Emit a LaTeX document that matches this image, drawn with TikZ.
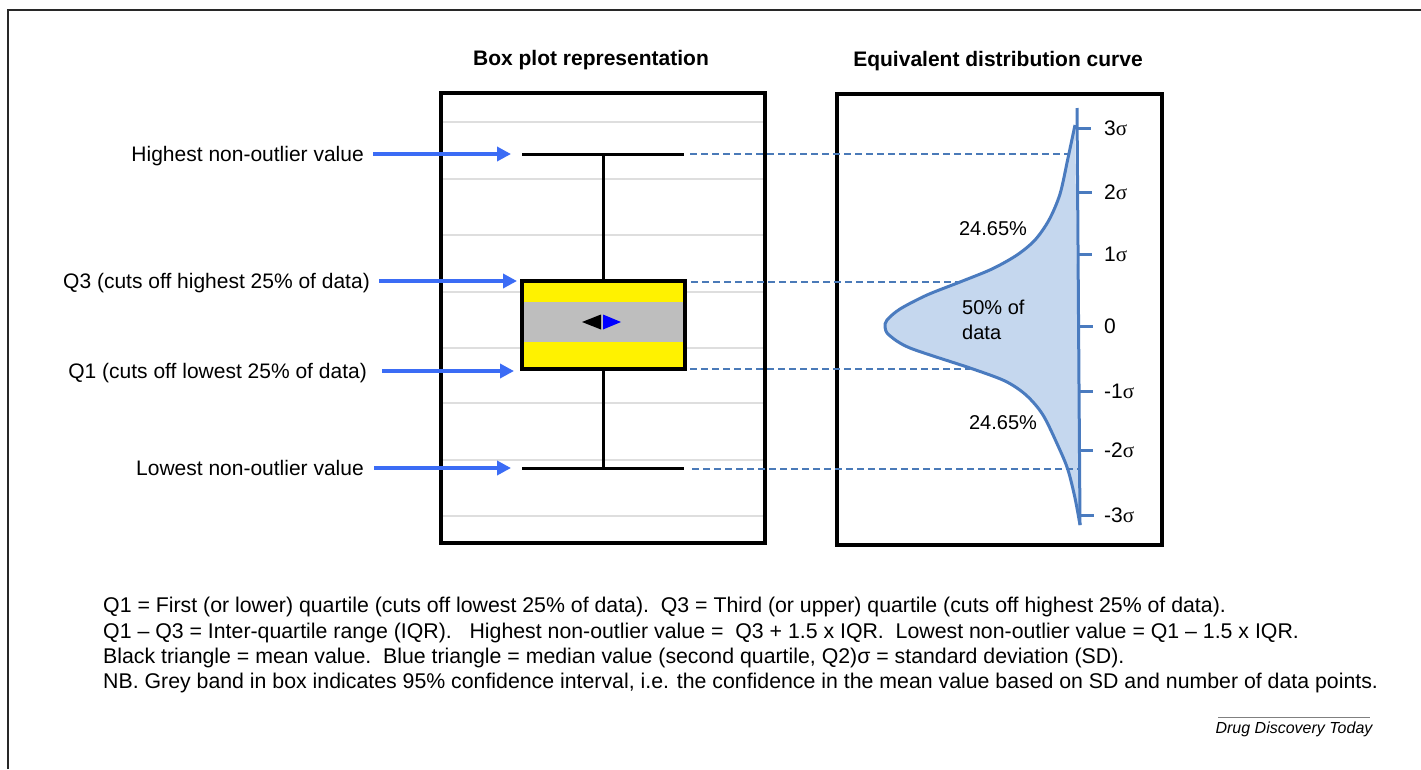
\documentclass[tikz,border=0pt]{standalone}
\usepackage{fontspec}
\setmainfont{Liberation Sans}
\newfontfamily\sigfont{Liberation Serif}
\usetikzlibrary{arrows.meta}
\newcommand\fs[2]{\fontsize{#1}{#2}\selectfont}
\definecolor{arrowblue}{RGB}{59,108,245}
\definecolor{dashblue}{RGB}{74,122,184}
\definecolor{curveblue}{RGB}{74,123,191}
\definecolor{curvefill}{RGB}{197,215,238}
\definecolor{bandgray}{RGB}{190,190,190}
\definecolor{gridgray}{RGB}{222,222,222}
\definecolor{framegray}{RGB}{40,40,40}
\newcommand\sg{{\sigfont σ}}
\begin{document}
\begin{tikzpicture}[x=1pt,y=-1pt,
  lbl/.style={font=\fs{21}{25}, inner sep=0pt, text height=15pt, text depth=0pt},
  ttl/.style={font=\fs{21}{25}\bfseries, inner sep=0pt},
  ptr/.style={draw=arrowblue, line width=3.5pt, -{Triangle[length=14pt,width=14pt]}},
  guide/.style={draw=dashblue, line width=2.5pt, dash pattern=on 7pt off 4pt},
  fn/.style={font=\fs{21.3}{25}, inner sep=0pt, anchor=west, text height=15pt, text depth=0pt},
  siglbl/.style={font=\fs{21}{25}, inner sep=0pt, anchor=west, text height=14.5pt, text depth=0pt},
  pct/.style={font=\fs{20}{24}, inner sep=0pt, text height=14pt, text depth=0pt},
  whisk/.style={line width=3pt, black},
  panel/.style={line width=3.5pt, black},
  crv/.style={curveblue, line width=3pt}]
\useasboundingbox (0,0) rectangle (1421,769);
\fill[white] (0,0) rectangle (1421,769);
\draw[framegray, line width=2pt] (8,769) -- (8,10) -- (1421,10);

% titles
\node[ttl] (t1) at (591,60) {Box plot representation};
\node[ttl] (t2) at (998,61) {Equivalent distribution curve};

% ---------- left panel ----------
\foreach \y in {122,179,235,292,348,403,460,516}
  \draw[gridgray, line width=2.5pt] (443,\y) -- (763,\y);
\draw[panel] (441,93) rectangle (765,543);
\draw[whisk] (603,154) -- (603,281);
\draw[whisk] (603,369) -- (603,468);
\draw[whisk] (522,154) -- (684,154);
\draw[whisk] (522,468) -- (684,468);
\fill[yellow] (522,281) rectangle (685,369);
\fill[bandgray] (522,302) rectangle (685,342);
\draw[panel] (522,281) rectangle (685,369);
\fill[black] (582,322) -- (601,314.5) -- (601,329.5) -- cycle;
\fill[blue] (621,322) -- (603,314.5) -- (603,329.5) -- cycle;

% labels and arrows
\node[lbl, anchor=east] (lH) at (364,154) {Highest non-outlier value};
\node[lbl, anchor=east] (lQ3) at (370,281) {Q3 (cuts off highest 25\% of data)};
\node[lbl, anchor=east] (lQ1) at (367,371) {Q1 (cuts off lowest 25\% of data)};
\node[lbl, anchor=east] (lL) at (364,468) {Lowest non-outlier value};
\coordinate (tH) at (511,154);
\coordinate (tQ3) at (517,281);
\coordinate (tQ1) at (514,371);
\coordinate (tL) at (511,468);
\draw[ptr] ([xshift=9pt]lH.east) -- (tH);
\draw[ptr] ([xshift=9pt]lQ3.east) -- (tQ3);
\draw[ptr] ([xshift=15pt]lQ1.east) -- (tQ1);
\draw[ptr] ([xshift=10pt]lL.east) -- (tL);

% ---------- right panel ----------
\draw[panel] (837,94) rectangle (1162,545);
\def\curvepts{(1075,125) (1068,158) (1060,194) (1049,220) (1035,240) (1017,255) (992,269) (960,282) (927,295) (900,309) (887,320) (885,327) (889,335) (910,348) (970,368) (1005,381) (1026,395) (1043,415) (1059,448) (1068,470) (1075,498) (1080,525)}
\fill[curvefill] plot[smooth] coordinates {\curvepts} -- cycle;

% guide lines
\coordinate (gH1) at (690,154);  \coordinate (gH2) at (1068,154);
\coordinate (gQ31) at (691,282); \coordinate (gQ32) at (960,282);
\coordinate (gQ11) at (690,369); \coordinate (gQ12) at (970,369);
\coordinate (gL1) at (692,469);  \coordinate (gL2) at (1080,469);
\draw[guide] (gH1) -- (gH2);
\draw[guide] (gQ31) -- (gQ32);
\draw[guide] (gQ11) -- (gQ12);
\draw[guide] (gL1) -- (gL2);

\draw[crv] plot[smooth] coordinates {\curvepts};
\draw[crv] (1077,108) -- (1080,525);
\foreach \y/\t/\n in {128/3\sg/s3, 192/2\sg/s2, 254/1\sg/s1, 326/0/s0, 391/-1\sg/sm1, 450/-2\sg/sm2, 515/-3\sg/sm3}{
  \draw[crv] ({1077+3*(\y-108)/417},\y) -- ({1091+3*(\y-108)/417},\y);
  \node[siglbl] (\n) at (1104,\y) {\t};
}
\node[pct] (p1) at (993,228) {24.65\%};
\node[pct, anchor=north west, align=left, text height=, text depth=, font=\fs{20}{25}] (p2) at (962,300) {50\% of\\data};
\node[pct] (p3) at (1003,422) {24.65\%};

% ---------- footnote ----------
\node[fn] (fn1) at (103,605) {Q1 = First (or lower) quartile (cuts off lowest 25\% of data).\ \ Q3 = Third (or upper) quartile (cuts off highest 25\% of data).};
\node[fn] (fn2) at (103,631) {Q1 – Q3 = Inter-quartile range (IQR).\ \ \ Highest non-outlier value =\ \ Q3 + 1.5 x IQR.\ \ Lowest non-outlier value = Q1 – 1.5 x IQR.};
\node[fn] (fn3) at (103,656) {Black triangle = mean value.\ \ Blue triangle = median value (second quartile, Q2)σ = standard deviation (SD).};
\node[fn] (fn4) at (103,681) {NB. Grey band in box indicates 95\% confidence interval, i.e. the confidence in the mean value based on SD and number of data points.};

\node[font=\fs{16}{19}\itshape, inner sep=0pt] (src) at (1294,729) {Drug Discovery Today};
\draw[gray, line width=1pt] (1218,717) -- (1370,717);
\end{tikzpicture}
\end{document}
